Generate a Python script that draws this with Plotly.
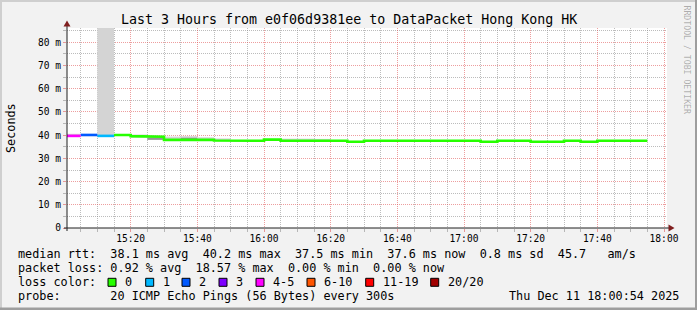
import plotly.graph_objects as go
import pandas as pd

# ---------------- data ----------------
interval_start = ["15:00", "15:05", "15:10", "15:15", "15:20", "15:25", "15:30", "15:35",
                  "15:40", "15:45", "15:50", "15:55", "16:00", "16:05", "16:10", "16:15",
                  "16:20", "16:25", "16:30", "16:35", "16:40", "16:45", "16:50", "16:55",
                  "17:00", "17:05", "17:10", "17:15", "17:20", "17:25", "17:30", "17:35",
                  "17:40", "17:45", "17:50"]
median_ms = [39.7, 40.1, 39.7, 40.1, 39.6, 39.3, 38.0, 38.3,
             38.0, 37.7, 37.6, 37.6, 38.1, 37.6, 37.6, 37.6,
             37.6, 37.2, 37.6, 37.6, 37.6, 37.6, 37.6, 37.6,
             37.6, 37.2, 37.6, 37.6, 37.2, 37.2, 37.6, 37.2,
             37.6, 37.6, 37.6]
loss_pings = [4, 2, 1, 0, 0, 0, 0, 0,
              0, 0, 0, 0, 0, 0, 0, 0,
              0, 0, 0, 0, 0, 0, 0, 0,
              0, 0, 0, 0, 0, 0, 0, 0,
              0, 0, 0]
smoke_lo = [39.2, 39.6, 39.8, 39.7, 38.9, 38.0, 38.2, 37.9,
            37.9, 37.5, 37.4, 37.4, 37.7, 37.4, 37.4, 37.4,
            None, None, None, None, None, None, None, None,
            None, None, None, None, None, None, None, None,
            None, None, None]
smoke_hi = [40.6, 40.5, 95.0, 40.4, 40.3, 39.8, 39.4, 39.6,
            39.1, 38.6, 37.9, 37.9, 38.4, 38.5, 38.5, 38.4,
            None, None, None, None, None, None, None, None,
            None, None, None, None, None, None, None, None,
            None, None, None]
dark_lo = [None, None, None, None, None, 38.0, 37.9, 38.0] + [None] * 27
dark_hi = [None, None, None, None, None, 39.0, 38.3, 38.9] + [None] * 27

loss_labels = ["0", "1", "2", "3", "4-5", "6-10", "11-19", "20/20"]
loss_upper = [0, 1, 2, 3, 5, 10, 19, 20]
loss_colors = ["#26ff00", "#00b8ff", "#0059ff", "#7e00ff", "#ff00ff", "#ff5500", "#ff0000", "#a10000"]

y_tick_vals = [0, 10, 20, 30, 40, 50, 60, 70, 80]
y_tick_text = ["0", "10 m", "20 m", "30 m", "40 m", "50 m", "60 m", "70 m", "80 m"]

title_text = "Last 3 Hours from e0f06d9381ee to DataPacket Hong Kong HK"
legend_lines = [
    "median rtt:" + " " * 2 + "38.1 ms avg  40.2 ms max  37.5 ms min  37.6 ms now  0.8 ms sd  45.7   am/s",
    "packet loss:" + " " + "0.92 % avg  18.57 % max  0.00 % min  0.00 % now",
    "loss color:",
    "probe:" + " " * 7 + "20 ICMP Echo Pings (56 Bytes) every 300s",
]
date_text = "Thu Dec 11 18:00:54 2025"

# ---------------- helpers ----------------
FONT = "DejaVu Sans Mono"
X0, W, YB, H = 67, 600, 228, 200  # plot area in canvas pixels


def px(x):
    return (x - X0) / W


def py(y):
    return (YB - y) / H


starts = pd.to_datetime(["2025-12-11 " + s for s in interval_start])
step = pd.Timedelta(minutes=5)
ends = starts + step
mids = starts + step / 2
width_ms = step.total_seconds() * 1000


def color_index(n):
    for k, up in enumerate(loss_upper):
        if n <= up:
            return k
    return len(loss_upper) - 1


cidx = [color_index(n) for n in loss_pings]

fig = go.Figure()

# smoke (light)
sm = [(m, lo, hi - lo) for m, lo, hi in zip(mids, smoke_lo, smoke_hi) if lo is not None]
fig.add_trace(go.Bar(x=[a for a, _, _ in sm], base=[b for _, b, _ in sm], y=[c for _, _, c in sm],
                     width=width_ms, marker=dict(color="#d4d4d4", line=dict(width=0)),
                     hoverinfo="skip", showlegend=False))
# smoke (dark)
dk = [(m, lo, hi - lo) for m, lo, hi in zip(mids, dark_lo, dark_hi) if lo is not None]
fig.add_trace(go.Bar(x=[a for a, _, _ in dk], base=[b for _, b, _ in dk], y=[c for _, _, c in dk],
                     width=width_ms, marker=dict(color="#959595", line=dict(width=0)),
                     hoverinfo="skip", showlegend=False))

# median lines per loss colour
for k, col in enumerate(loss_colors):
    xs, ys = [], []
    prev = False
    for i in range(len(median_ms)):
        if cidx[i] == k:
            if not prev and xs:
                xs.append(None)
                ys.append(None)
            xs += [starts[i], ends[i]]
            ys += [median_ms[i], median_ms[i]]
            prev = True
        else:
            prev = False
    if xs:
        fig.add_trace(go.Scatter(x=xs, y=ys, mode="lines", line=dict(color=col, width=2.6),
                                 hoverinfo="skip", showlegend=False))

grid_minor = "rgba(143,143,143,0.6)"
grid_major = "rgba(222,79,79,0.55)"

fig.update_layout(
    width=697, height=310,
    margin=dict(l=X0, r=697 - X0 - W, t=YB - H, b=310 - YB),
    paper_bgcolor="#f2f2f2", plot_bgcolor="#ffffff",
    barmode="overlay", showlegend=False,
    font=dict(family=FONT, color="#000000", size=11.8),
    xaxis=dict(
        type="date",
        range=["2025-12-11 15:00:54", "2025-12-11 18:00:54"],
        tick0="2025-12-11 15:00:00", dtick=20 * 60 * 1000, tickformat="%H:%M",
        showgrid=True, gridcolor=grid_major, griddash="1px,1px", gridwidth=1,
        ticks="outside", ticklen=3, tickcolor=grid_major, ticklabelstandoff=-2,
        tickfont=dict(family=FONT, size=9.6, color="#000"),
        minor=dict(dtick=5 * 60 * 1000, tick0="2025-12-11 15:00:00", showgrid=True,
                   gridcolor=grid_minor, griddash="1px,1px", gridwidth=1,
                   ticks="outside", ticklen=3, tickcolor=grid_minor),
        zeroline=False, showline=False, fixedrange=True,
    ),
    yaxis=dict(
        range=[0, 86.2],
        tickmode="array", tickvals=y_tick_vals, ticktext=y_tick_text,
        showgrid=True, gridcolor=grid_major, griddash="1px,1px", gridwidth=1,
        ticks="outside", ticklen=3, tickcolor=grid_major,
        tickfont=dict(family=FONT, size=9.6, color="#000"),
        minor=dict(tickvals=[5, 15, 25, 35, 45, 55, 65, 75, 85], showgrid=True,
                   gridcolor=grid_minor, griddash="1px,1px", gridwidth=1,
                   ticks="outside", ticklen=3, tickcolor=grid_minor),
        zeroline=False, showline=False, fixedrange=True,
    ),
)

shapes = []
# frame shading
shapes.append(dict(type="rect", xref="paper", yref="paper", x0=px(0), x1=px(697), y0=py(2), y1=py(0),
                   fillcolor="#cfcfcf", line=dict(width=0), layer="below"))
shapes.append(dict(type="rect", xref="paper", yref="paper", x0=px(0), x1=px(2), y0=py(310), y1=py(0),
                   fillcolor="#cfcfcf", line=dict(width=0), layer="below"))
shapes.append(dict(type="rect", xref="paper", yref="paper", x0=px(0), x1=px(697), y0=py(310), y1=py(307.5),
                   fillcolor="#9e9e9e", line=dict(width=0), layer="below"))
shapes.append(dict(type="rect", xref="paper", yref="paper", x0=px(695), x1=px(697), y0=py(310), y1=py(0),
                   fillcolor="#9e9e9e", line=dict(width=0), layer="below"))
# axes
shapes.append(dict(type="line", xref="paper", yref="paper", x0=px(64), x1=px(669.5), y0=0, y1=0,
                   line=dict(color="#1f1f1f", width=1)))
shapes.append(dict(type="line", xref="paper", yref="paper", x0=0, x1=0, y0=py(231), y1=py(25.5),
                   line=dict(color="#1f1f1f", width=1)))
# arrows
shapes.append(dict(type="path", xref="paper", yref="paper",
                   path=f"M {px(63.5)} {py(26.5)} L {px(70.5)} {py(26.5)} L {px(67)} {py(20.5)} Z",
                   fillcolor="#801f1f", line=dict(width=0)))
shapes.append(dict(type="path", xref="paper", yref="paper",
                   path=f"M {px(668.5)} {py(224.5)} L {px(668.5)} {py(231.5)} L {px(674.5)} {py(228)} Z",
                   fillcolor="#801f1f", line=dict(width=0)))

# loss colour swatches
swatch_x = [108, 145.7, 182, 219, 256, 307, 365.7, 430.7]
sw_y = 282.3
for xx, col in zip(swatch_x, loss_colors):
    shapes.append(dict(type="rect", xref="paper", yref="paper",
                       x0=px(xx), x1=px(xx + 8), y0=py(sw_y + 4), y1=py(sw_y - 4),
                       fillcolor=col, line=dict(color="#000000", width=1)))
fig.update_layout(shapes=shapes)

ann = []
ann.append(dict(text=title_text, x=px(348.5), y=py(19), xref="paper", yref="paper",
                xanchor="center", yanchor="middle", showarrow=False,
                font=dict(family=FONT, size=13.3, color="#000")))
ann.append(dict(text="Seconds", x=px(11), y=py(128), xref="paper", yref="paper",
                xanchor="center", yanchor="middle", showarrow=False, textangle=-90,
                font=dict(family=FONT, size=11.8, color="#000")))
ann.append(dict(text="RRDTOOL / TOBI OETIKER", x=px(686.5), y=py(60), xref="paper", yref="paper",
                xanchor="center", yanchor="middle", showarrow=False, textangle=90,
                font=dict(family=FONT, size=8.2, color="rgba(0,0,0,0.3)")))
line_y = [254.3, 268.0, 282.3, 295.8]
for t, yy in zip(legend_lines, line_y):
    ann.append(dict(text=t.replace(" ", "&nbsp;"), x=px(16), y=py(yy), xref="paper", yref="paper",
                    xanchor="left", yanchor="middle", showarrow=False,
                    font=dict(family=FONT, size=11.8, color="#000")))
for xx, lab in zip(swatch_x, loss_labels):
    ann.append(dict(text=lab, x=px(xx + 15), y=py(sw_y), xref="paper", yref="paper",
                    xanchor="left", yanchor="middle", showarrow=False,
                    font=dict(family=FONT, size=11.8, color="#000")))
ann.append(dict(text=date_text, x=px(680.5), y=py(line_y[3]), xref="paper", yref="paper",
                xanchor="right", yanchor="middle", showarrow=False,
                font=dict(family=FONT, size=11.8, color="#000")))
fig.update_layout(annotations=ann)

fig.write_html("out.html")
